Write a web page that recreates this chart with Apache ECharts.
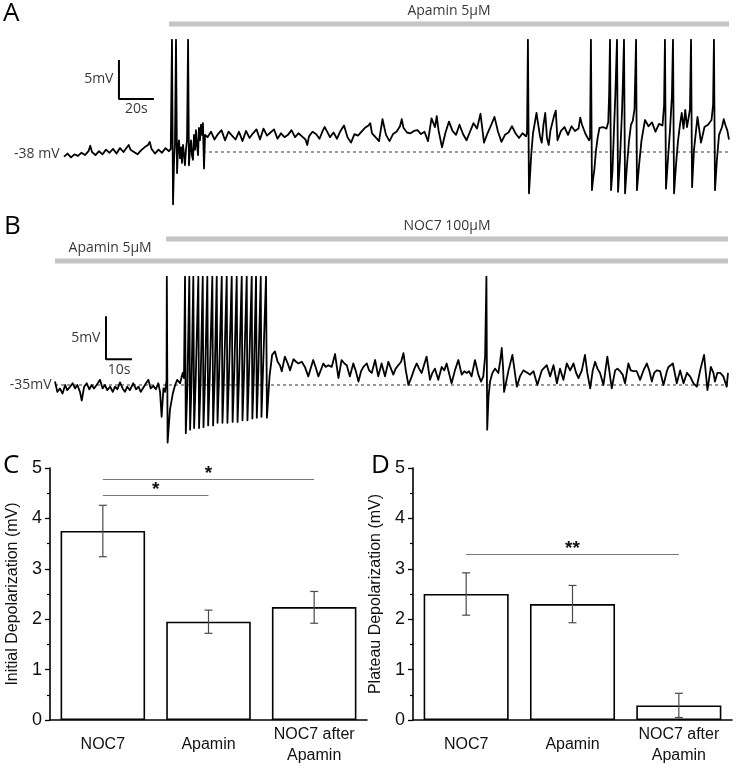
<!DOCTYPE html>
<html><head><meta charset="utf-8">
<script src="https://cdn.jsdelivr.net/npm/echarts@6/dist/echarts.min.js"></script>
<style>html,body{margin:0;padding:0;background:#fff}#c{width:737px;height:769px}</style>
</head><body><div id="c"></div><script>
// ---------- Panel A: membrane potential trace (time s, mV relative to -38 mV) ----------
const restA = '-38 mV';
const drugA = ['Apamin 5μM'];
const drugA_range = [60, 380];
const scaleA = [5, 20]; // 5 mV, 20 s
const traceA = [
[0,-0.6],[2,-0.2],[4,-0.7],[6,-0.3],[8,-0.5],[10,-0.1],[12,-0.4],[14,0.1],[15,0.8],[16,0.0],[18,-0.4],[20,0.1],[22,-0.3],[24,0.3],[26,-0.1],[28,0.4],[30,-0.2],[32,0.5],[34,0.0],[36,0.6],[37,0.9],[38,0.3],[40,0.0],[42,-0.3],[44,0.2],[46,0.6],[48,0.9],[49,1.3],[50,0.4],[52,-0.2],[54,0.3],[56,-0.1],[58,0.5],[60,0.1],[61,0.4],
[61.7,14.4],[62.3,-6.7],[62.9,-1.0],[63.4,0.9],[64.0,14.4],[64.6,-2.7],[65.1,0.3],[65.7,1.5],[66.3,-0.8],[66.9,0.6],[67.4,-1.4],[68.0,0.9],[68.6,-0.4],[69.1,-1.7],[69.7,0.3],[70.3,1.5],[70.9,14.4],[71.4,-1.7],[72.0,0.3],[72.6,1.5],[73.1,-0.4],[73.7,-1.0],[74.3,2.2],[74.9,0.3],[75.4,2.8],[76.0,0.9],[76.6,-0.4],[77.1,3.1],[77.7,1.5],[78.3,3.5],[78.9,2.2],[79.4,3.7],[80.0,-2.1],[80.6,2.2],[81.1,2.4],
[82,1.9],[84,2.6],[86,1.6],[88,2.3],[90,2.8],[92,1.5],[94,2.6],[96,2.1],[98,1.6],[100,2.6],[102,1.4],[104,2.7],[106,1.8],[108,2.4],[110,2.9],[112,1.6],[114,3.0],[116,2.1],[118,2.5],[120,2.9],[122,1.7],[124,2.4],[126,1.9],[128,2.2],[130,2.8],[132,1.9],[134,2.4],[136,2.0],[138,1.6],[139,0.9],[140,2.0],[142,2.6],[144,2.3],[146,1.7],[148,2.8],[149,3.2],[150,3.3],[152,1.9],[154,2.5],[156,1.7],[158,2.7],[160,3.4],[162,1.9],[164,1.2],[166,2.3],[168,2.1],[170,2.6],[172,3.1],[174,3.4],[175,3.7],[176,2.4],[178,1.9],[180,1.4],[182,4.2],[184,2.2],[186,1.4],[188,2.3],[190,2.6],[192,3.3],[193,4.2],[194,3.1],[196,2.5],[198,2.4],[200,2.7],[202,2.8],[204,2.3],[206,2.6],[208,1.4],[210,4.3],[212,3.2],[213,4.6],[214,2.8],[216,0.6],[218,2.5],[220,3.9],[222,2.7],[224,2.2],[226,3.5],[228,2.3],[230,1.5],[232,2.6],[234,3.7],[236,3.0],[238,4.9],[240,1.2],[242,2.4],[244,3.4],[246,4.5],[248,2.6],[250,1.3],[252,2.2],[254,2.5],[256,3.3],[258,2.4],[260,1.8],[262,2.4],[264,2.0],[264.6,2.5],
[265.1,14.4],[265.7,-5.3],[266.3,-3.0],[267,-0.3],[268,2.4],[270,5.0],[272,2.0],[273,1.2],[274,3.5],[275,5.0],[276,1.8],[277,0.9],[278,2.8],[280,4.6],[281,5.3],[282,1.5],[284,2.7],[286,3.2],[288,2.2],[290,3.3],[292,2.7],[294,3.0],[295,4.4],[296,3.5],[298,2.3],[300,1.5],[300.6,1.8],
[301.1,14.4],[301.7,-4.9],[302.3,-3.5],[303,-2.4],[304,0.2],[305,1.9],[306,3.1],[308,3.2],[310,3.0],[311,3.8],[311.5,7.4],[312,14.4],[312.6,-4.9],[313.4,-2.5],[314.3,3.0],[315,7.0],[316,14.4],[316.6,-5.1],[317.7,-1.0],[318.9,5.4],[319.4,9.2],[320,14.4],[320.6,-5.3],[321.7,-1.7],[322.9,1.5],[324,3.5],[325,4.0],[326,5.5],[326.9,14.4],[327.4,-4.9],[328.6,-1.7],[330,1.5],[332,4.1],[334,3.3],[336,3.8],[338,2.6],[340,3.6],[342,3.4],[342.9,6.0],[343.4,14.4],[344,-4.7],[345.1,-1.0],[346.3,2.8],[347.4,7.3],[348,14.4],[348.6,-5.3],[349.7,-1.7],[350.9,1.5],[352,3.5],[353,5.0],[354,3.0],[355,5.4],[356,3.2],[357,4.5],[357.7,5.5],[358.3,14.4],[358.9,-4.5],[360,0.3],[362,4.5],[364,1.2],[366,3.2],[368,3.5],[370,4.1],[370.9,6.0],[371.4,14.4],[372,-4.9],[373.1,-1.0],[374.3,2.2],[376,3.2],[377,4.2],[378,3.4],[379,2.8],[380,1.6]
];

// ---------- Panel B: trace (time s, mV relative to -35 mV) ----------
const restB = '-35mV';
const drugB = ['NOC7 100μM', 'Apamin 5μM'];
const drugB_noc7 = [42.7, 258.8];
const drugB_apamin = [0, 258.8];
const scaleB = [5, 10]; // 5 mV, 10 s
const traceB = [
[0.0,0.4],[0.9,-0.8],[1.9,-0.4],[2.9,-1.0],[3.9,0.0],[4.7,-0.6],[5.8,-0.2],[6.8,0.2],[7.7,-0.4],[8.6,0.0],[9.6,-0.8],[10.3,-1.8],[11.2,-0.2],[12.2,0.2],[13.2,-0.5],[14.1,0.0],[15.0,-0.4],[16.0,0.0],[17.3,0.6],[18.3,-0.4],[19.2,0.0],[20.1,-0.6],[21.2,-0.2],[22.2,-0.8],[23.1,-0.2],[24.0,-0.5],[25.0,0.3],[26.0,-0.4],[26.9,-0.8],[27.8,-0.2],[28.8,-0.6],[30.1,0.2],[31.2,-0.5],[32.1,-0.2],[33.0,-0.8],[34.0,-0.3],[35.0,0.2],[35.9,0.6],[36.8,-0.4],[37.8,-0.1],[38.8,-0.5],[39.7,0.2],[40.4,-0.8],[41.0,-3.7],[41.7,-0.4],[42.3,-0.8],[42.9,0.5],
[43.0,12.6],[43.3,-6.7],[44.2,-2.9],[45.3,-1.0],[46.2,0.0],[47.0,0.6],[48.1,0.2],[49.1,1.4],[49.6,0.8],
[50.0,12.6],[50.3,-5.6],[50.9,-0.4],[51.65,12.6],[51.95,-5.2],[52.5,0.2],[53.19,12.6],[53.5,-5.0],[54.1,0.5],[55.12,12.6],[55.4,-5.0],[56.0,0.5],[56.81,12.6],[57.1,-4.9],[57.7,0.6],[58.58,12.6],[58.9,-4.7],[59.5,0.8],[60.5,12.6],[60.8,-4.7],[61.4,0.8],[62.19,12.6],[62.5,-4.4],[63.1,1.1],[64.12,12.6],[64.4,-4.4],[65.0,1.1],[66.04,12.6],[66.3,-4.4],[66.9,1.1],[67.96,12.6],[68.3,-4.3],[68.9,1.2],[69.88,12.6],[70.2,-4.3],[70.8,1.2],[71.81,12.6],[72.1,-4.1],[72.7,1.4],[73.73,12.6],[74.0,-4.1],[74.6,1.4],[75.65,12.6],[75.9,-3.9],[76.5,1.6],[77.31,12.6],[77.6,-3.8],[78.2,1.7],[79.12,12.6],[79.4,-3.7],[80.0,1.8],[81.15,12.6],[81.5,-3.8],[82.5,1.0],[83.5,3.5],
[84.6,3.9],[85.6,2.7],[86.5,2.3],[87.2,1.6],[88.4,3.3],[89.5,2.5],[90.4,1.7],[91.7,3.0],[92.7,2.7],[93.6,2.5],[94.9,2.7],[96.1,2.1],[97.4,1.0],[99.3,2.9],[100.2,2.1],[101.3,1.0],[103.2,2.5],[104.1,2.1],[105.1,2.3],[106.4,2.1],[107.7,3.6],[109.0,0.8],[110.2,2.9],[111.3,2.5],[112.2,2.3],[113.4,1.0],[114.7,2.5],[115.6,1.7],[116.7,0.4],[117.7,1.6],[118.6,2.1],[119.9,2.5],[120.8,1.7],[121.8,1.4],[123.1,2.9],[124.3,1.0],[125.6,2.5],[126.9,1.0],[128.2,2.7],[129.2,1.9],[130.1,1.2],[131.0,1.9],[132.0,2.3],[133.1,2.7],[134.0,3.7],[134.9,1.7],[135.9,0.0],[137.2,1.0],[138.2,1.9],[139.1,2.5],[140.0,1.9],[141.0,1.4],[142.9,3.3],[144.2,0.6],[145.1,1.4],[146.1,1.9],[147.4,0.6],[148.7,2.1],[149.7,1.7],[150.6,2.5],[151.5,1.4],[152.5,0.2],[153.8,1.7],[155.1,2.9],[156.4,1.2],[157.4,1.6],[158.3,1.4],[159.2,1.6],[160.2,1.0],[161.5,2.9],[162.8,1.2],[163.8,0.4],[164.7,1.0],[165.4,3.3],
[165.9,12.6],[166.2,-5.2],[166.7,-1.4],[167.3,0.4],[168.2,1.4],[169.2,1.9],[170.5,1.4],[171.2,2.8],[171.8,4.3],[172.3,2.0],[172.7,-0.8],[173.1,-1.0],
[174.4,1.7],[175.9,3.5],[177.6,-0.2],[178.8,1.0],[180.1,1.7],[180.8,1.9],[181.8,1.4],[182.7,1.2],[184.0,1.6],[185.5,0.0],[187.2,1.7],[189.1,2.3],[190.4,1.0],[191.7,2.3],[193.0,0.2],[194.2,1.9],[195.5,0.6],[196.8,2.5],[198.1,1.7],[199.4,2.5],[200.4,1.4],[201.3,0.8],[202.6,1.7],[203.8,3.5],[204.7,1.4],[205.8,-0.4],[206.8,1.7],[207.7,2.7],[208.6,1.9],[209.6,1.4],[210.9,0.0],[212.4,3.3],[214.1,-0.4],[215.4,1.7],[216.3,1.9],[217.3,1.6],[218.3,1.2],[219.2,0.2],[220.5,2.5],[221.4,1.7],[222.4,1.6],[223.7,1.6],[225.0,0.6],[226.3,1.7],[227.6,2.5],[228.6,1.6],[229.5,0.4],[230.4,1.4],[231.4,1.7],[232.7,1.6],[234.0,0.0],[235.3,1.6],[235.9,2.1],[237.6,2.5],[239.1,0.2],[240.4,1.7],[241.7,0.2],[243.0,1.4],[244.2,1.0],[245.5,0.2],[246.8,-0.2],[248.1,1.7],[249.6,3.5],[250.9,-0.6],[252.2,2.1],[253.2,1.4],[253.8,0.4],[254.7,1.4],[255.8,1.4],[257.0,1.0],[258.3,-0.2],[258.8,1.4]
];

// ---------- Panels C & D: bar charts ----------
const categories = ['NOC7', 'Apamin', 'NOC7 after\nApamin'];
const initialMean = [3.75, 1.95, 2.24];
const initialLow  = [3.24, 1.72, 1.92];
const initialHigh = [4.26, 2.18, 2.55];
const plateauMean = [2.50, 2.30, 0.29];
const plateauLow  = [2.08, 1.93, 0.05];
const plateauHigh = [2.92, 2.67, 0.53];
// significance: [from category, to category, height, mark]
const sigC = [[0, 1, 4.45, '*'], [0, 2, 4.78, '*']];
const sigD = [[0, 2, 3.29, '**']];
const yNameC = 'Initial Depolarization (mV)';
const yNameD = 'Plateau Depolarization (mV)';

const TF = 'Open Sans';
const BF = 'Liberation Sans';

function textPoint(xi, yi, x, y, text, pos, dist, extra) {
  return {
    type: 'scatter', xAxisIndex: xi, yAxisIndex: yi, symbolSize: 1, silent: true,
    itemStyle: { color: 'transparent' },
    data: [[x, y]],
    label: Object.assign({ show: true, position: pos, distance: dist, formatter: text,
      fontFamily: TF, fontSize: 14, color: '#000' }, extra || {})
  };
}
function plainLine(xi, yi, data, style, z) {
  return { type: 'line', xAxisIndex: xi, yAxisIndex: yi, data: data, showSymbol: false, symbol: 'none',
    silent: true, lineStyle: style, z: z || 2, animation: false };
}
function errSeries(xi, yi, lo, hi) {
  return {
    type: 'custom', xAxisIndex: xi, yAxisIndex: yi, z: 5, silent: true,
    data: lo.map((l, i) => [i, l, hi[i]]),
    encode: { x: 0, y: [1, 2] },
    renderItem: function (params, api) {
      const a = api.coord([api.value(0), api.value(1)]);
      const b = api.coord([api.value(0), api.value(2)]);
      const w = 4;
      const st = { stroke: '#4a4a4a', lineWidth: 1.2 };
      return { type: 'group', children: [
        { type: 'line', shape: { x1: a[0], y1: a[1], x2: b[0], y2: b[1] }, style: st },
        { type: 'line', shape: { x1: a[0] - w, y1: a[1], x2: a[0] + w, y2: a[1] }, style: st },
        { type: 'line', shape: { x1: b[0] - w, y1: b[1], x2: b[0] + w, y2: b[1] }, style: st }
      ]};
    }
  };
}
function sigMarks(sig) {
  return {
    silent: true, symbol: ['none', 'none'], animation: false,
    lineStyle: { color: '#777', width: 1, type: 'solid' },
    label: { show: true, position: 'insideMiddleTop', distance: -4, fontFamily: BF, fontSize: 19, color: '#111', fontWeight: 'bold' },
    data: sig.map(s => [
      { coord: [categories[s[0]], s[2]], label: { formatter: s[3] } },
      { coord: [categories[s[1]], s[2]] }
    ])
  };
}
function barAxes(gi, name) {
  return {
    x: { gridIndex: gi, type: 'category', data: categories,
      axisLine: { show: true, lineStyle: { color: '#000', width: 1.6 } },
      axisTick: { show: false },
      axisLabel: { fontFamily: BF, fontSize: 16, color: '#111', margin: 25, verticalAlign: 'middle', lineHeight: 21 } },
    y: { gridIndex: gi, type: 'value', min: 0, max: 5, interval: 1,
      axisLine: { show: true, lineStyle: { color: '#000', width: 1.6 } },
      axisTick: { show: true, length: 5, lineStyle: { color: '#000', width: 1.3 } },
      minorTick: { show: true, splitNumber: 2, length: 3, lineStyle: { color: '#000', width: 1.2 } },
      splitLine: { show: false }, minorSplitLine: { show: false },
      axisLabel: { fontFamily: BF, fontSize: 18, color: '#111', margin: 8 },
      name: name, nameLocation: 'middle', nameGap: 29,
      nameTextStyle: { fontFamily: BF, fontSize: 16, color: '#111' } }
  };
}
const axC = barAxes(4, yNameC), axD = barAxes(5, yNameD);

const option = {
  animation: false,
  backgroundColor: '#fff',
  grid: [
    { left: 64, top: 39.7, width: 665, height: 170 },      // 0 trace A
    { left: 64, top: 14, width: 665, height: 20 },          // 1 drug A
    { left: 55, top: 276.6, width: 673, height: 168.6 },    // 2 trace B
    { left: 55, top: 228, width: 673, height: 44 },         // 3 drug B
    { left: 50, top: 468, width: 317, height: 252 },        // 4 C
    { left: 413, top: 468, width: 319, height: 252 }        // 5 D
  ],
  xAxis: [
    { gridIndex: 0, type: 'value', min: 0, max: 380, show: false },
    { gridIndex: 1, type: 'value', min: 0, max: 380, show: false },
    { gridIndex: 2, type: 'value', min: 0, max: 258.8, show: false },
    { gridIndex: 3, type: 'value', min: 0, max: 258.8, show: false },
    axC.x, axD.x
  ],
  yAxis: [
    { gridIndex: 0, type: 'value', min: -7.4, max: 14.4, show: false },
    { gridIndex: 1, type: 'value', min: 0, max: 1, show: false },
    { gridIndex: 2, type: 'value', min: -7.0, max: 12.6, show: false },
    { gridIndex: 3, type: 'value', min: -0.5, max: 1.5, show: false },
    axC.y, axD.y
  ],
  graphic: [
    { type: 'text', left: 3, top: 1, style: { text: 'A', fontFamily: TF, fontSize: 26, fill: '#000' } },
    { type: 'text', left: 4, top: 214, style: { text: 'B', fontFamily: TF, fontSize: 26, fill: '#000' } },
    { type: 'text', left: 3, top: 453, style: { text: 'C', fontFamily: TF, fontSize: 26, fill: '#000' } },
    { type: 'text', left: 371, top: 453, style: { text: 'D', fontFamily: TF, fontSize: 26, fill: '#000' } }
  ],
  series: [
    // Panel A
    plainLine(1, 1, [[drugA_range[0], 0.5], [drugA_range[1], 0.5]], { color: '#c4c4c4', width: 5, cap: 'butt' }),
    textPoint(1, 1, (drugA_range[0] + drugA_range[1]) / 2, 0.5, drugA[0], 'top', 5),
    plainLine(0, 0, [[79.4, 0], [380, 0]], { color: '#333', width: 1, type: [3, 3] }, 1),
    plainLine(0, 0, traceA, { color: '#000', width: 1.8, join: 'round' }, 3),
    plainLine(0, 0, [[31.4, 6.8 + scaleA[0]], [31.4, 6.8], [31.4 + scaleA[1], 6.8]], { color: '#000', width: 2 }, 3),
    textPoint(0, 0, 31.4, 6.8 + scaleA[0] / 2, scaleA[0] + 'mV', 'left', 5),
    textPoint(0, 0, 31.4 + scaleA[1] / 2, 6.8, scaleA[1] + 's', 'bottom', 3),
    textPoint(0, 0, 0, -0.3, restA, 'left', 4),
    // Panel B
    plainLine(3, 3, [[drugB_noc7[0], 1], [drugB_noc7[1], 1]], { color: '#c4c4c4', width: 5, cap: 'butt' }),
    plainLine(3, 3, [[drugB_apamin[0], 0], [drugB_apamin[1], 0]], { color: '#c4c4c4', width: 5, cap: 'butt' }),
    textPoint(3, 3, (drugB_noc7[0] + drugB_noc7[1]) / 2, 1, drugB[0], 'top', 5),
    textPoint(3, 3, 21.2, 0, drugB[1], 'top', 5),
    plainLine(2, 2, [[0, 0], [258.8, 0]], { color: '#333', width: 1, type: [3, 3] }, 1),
    plainLine(2, 2, traceB, { color: '#000', width: 1.8, join: 'round' }, 3),
    plainLine(2, 2, [[19.6, 3.0 + scaleB[0]], [19.6, 3.0], [19.6 + scaleB[1], 3.0]], { color: '#000', width: 2 }, 3),
    textPoint(2, 2, 19.6, 3.0 + scaleB[0] / 2, scaleB[0] + 'mV', 'left', 5),
    textPoint(2, 2, 19.6 + scaleB[1] / 2, 3.0, scaleB[1] + 's', 'bottom', 3),
    textPoint(2, 2, 0, 0, restB, 'left', 3),
    // Panel C
    { type: 'bar', xAxisIndex: 4, yAxisIndex: 4, data: initialMean, barWidth: '80%', silent: true,
      itemStyle: { color: '#fff', borderColor: '#000', borderWidth: 1.6 }, markLine: sigMarks(sigC) },
    errSeries(4, 4, initialLow, initialHigh),
    // Panel D
    { type: 'bar', xAxisIndex: 5, yAxisIndex: 5, data: plateauMean, barWidth: '80%', silent: true,
      itemStyle: { color: '#fff', borderColor: '#000', borderWidth: 1.6 }, markLine: sigMarks(sigD) },
    errSeries(5, 5, plateauLow, plateauHigh)
  ]
};
const chart = echarts.init(document.getElementById('c'), null, { renderer: 'canvas' });
chart.setOption(option);
</script></body></html>
